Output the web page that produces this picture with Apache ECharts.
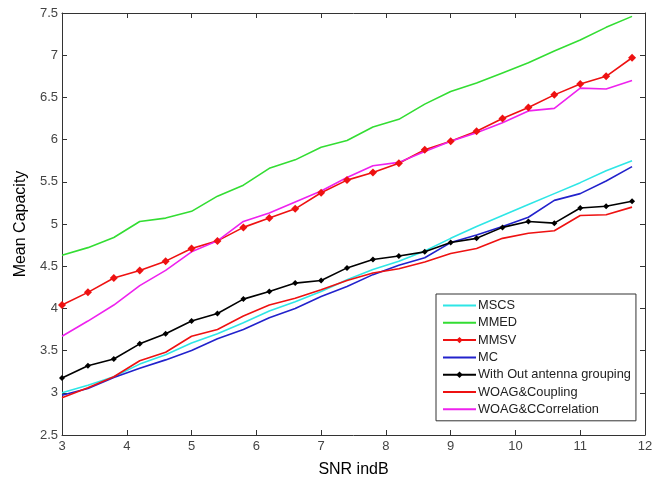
<!DOCTYPE html>
<html>
<head>
<meta charset="utf-8">
<script src="https://cdn.jsdelivr.net/npm/echarts@6/dist/echarts.min.js"></script>
<style>html,body{margin:0;padding:0;background:#fff;}#c{width:666px;height:483px;}</style>
</head>
<body>
<div id="c"></div>
<script>
const snr = [3.0,3.4,3.8,4.2,4.6,5.0,5.4,5.8,6.2,6.6,7.0,7.4,7.8,8.2,8.6,9.0,9.4,9.8,10.2,10.6,11.0,11.4,11.8];
const mscs = [3.00,3.09,3.19,3.34,3.45,3.59,3.70,3.83,3.97,4.08,4.20,4.34,4.46,4.56,4.68,4.83,4.97,5.10,5.23,5.36,5.49,5.63,5.75];
const mmed = [4.63,4.72,4.84,5.03,5.07,5.15,5.33,5.46,5.66,5.76,5.91,5.99,6.15,6.24,6.42,6.57,6.67,6.79,6.91,7.05,7.18,7.33,7.46];
const mmsv = [4.04,4.19,4.36,4.45,4.56,4.71,4.80,4.96,5.07,5.18,5.37,5.52,5.61,5.72,5.88,5.98,6.10,6.25,6.38,6.53,6.66,6.75,6.97];
const mc = [2.97,3.05,3.18,3.29,3.39,3.50,3.64,3.75,3.89,4.00,4.14,4.26,4.40,4.51,4.60,4.78,4.87,4.97,5.08,5.28,5.36,5.51,5.68];
const woag = [3.175,3.32,3.40,3.58,3.70,3.85,3.94,4.11,4.20,4.30,4.33,4.48,4.58,4.62,4.67,4.78,4.83,4.96,5.03,5.01,5.19,5.21,5.27];
const coupling = [2.94,3.06,3.19,3.38,3.48,3.67,3.75,3.91,4.04,4.12,4.22,4.33,4.42,4.47,4.55,4.65,4.71,4.83,4.89,4.92,5.10,5.11,5.20];
const ccorr = [3.67,3.85,4.04,4.27,4.45,4.67,4.80,5.03,5.13,5.26,5.39,5.55,5.69,5.73,5.86,5.98,6.08,6.20,6.34,6.37,6.61,6.60,6.70];
const names = ['MSCS','MMED','MMSV','MC','With Out antenna grouping','WOAG&Coupling','WOAG&CCorrelation'];
const withMarker = {'MMSV':true, 'With Out antenna grouping':true};

function pairs(ys){ return snr.map((x,i)=>[x,ys[i]]); }
function line(name, ys, color, symbol, size){
  return {
    name: name, type:'line', data: pairs(ys),
    symbol: symbol || 'none', symbolSize: size || 0, showSymbol: !!symbol,
    lineStyle:{color:color, width:1.6}, itemStyle:{color:color},
    emphasis:{disabled:true}, animation:false
  };
}
const axisCommon = {
  axisLine:{show:true, lineStyle:{color:'#333', width:1}},
  axisTick:{show:true, inside:true, length:5, lineStyle:{color:'#333'}},
  splitLine:{show:false}
};
const chart = echarts.init(document.getElementById('c'));
chart.setOption({
  backgroundColor:'#fff',
  animation:false,
  grid:{left:62, top:13, right:21, bottom:38, containLabel:false},
  xAxis:[
    Object.assign({type:'value', min:3, max:12, interval:1, position:'bottom',
      name:'SNR indB', nameLocation:'middle', nameGap:27,
      nameTextStyle:{color:'#000', fontSize:16, fontFamily:'Liberation Sans'},
      axisLabel:{color:'#444', fontSize:13, fontFamily:'Liberation Sans', margin:5}}, axisCommon),
    Object.assign({type:'value', min:3, max:12, interval:1, position:'top',
      axisLabel:{show:false}}, axisCommon)
  ],
  yAxis:[
    Object.assign({type:'value', min:2.5, max:7.5, interval:0.5, position:'left',
      name:'Mean Capacity', nameLocation:'middle', nameGap:32,
      nameTextStyle:{color:'#000', fontSize:16, fontFamily:'Liberation Sans'},
      axisLabel:{color:'#444', fontSize:13, fontFamily:'Liberation Sans', margin:4}}, axisCommon),
    Object.assign({type:'value', min:2.5, max:7.5, interval:0.5, position:'right',
      axisLabel:{show:false}}, axisCommon)
  ],
  legend:{
    data:names.map(n => withMarker[n] ? {name:n} : {name:n, itemStyle:{opacity:0}}),
    orient:'vertical', left:436, top:294,
    width:200, itemWidth:33, itemHeight:8, itemGap:4.3,
    backgroundColor:'#fff', borderColor:'#333', borderWidth:1, borderRadius:0,
    padding:[5,5,5,6],
    textStyle:{color:'#222', fontSize:12.8, fontFamily:'Liberation Sans', padding:[0,0,0,-3]},
    selectedMode:false
  },
  series:[
    line(names[0], mscs, '#2ee6e6'),
    line(names[1], mmed, '#33dd33'),
    line(names[2], mmsv, '#ee1111', 'diamond', 8),
    line(names[3], mc, '#2222cc'),
    line(names[4], woag, '#000000', 'diamond', 6),
    line(names[5], coupling, '#ee1111'),
    line(names[6], ccorr, '#ee22ee')
  ]
});
</script>
</body>
</html>
